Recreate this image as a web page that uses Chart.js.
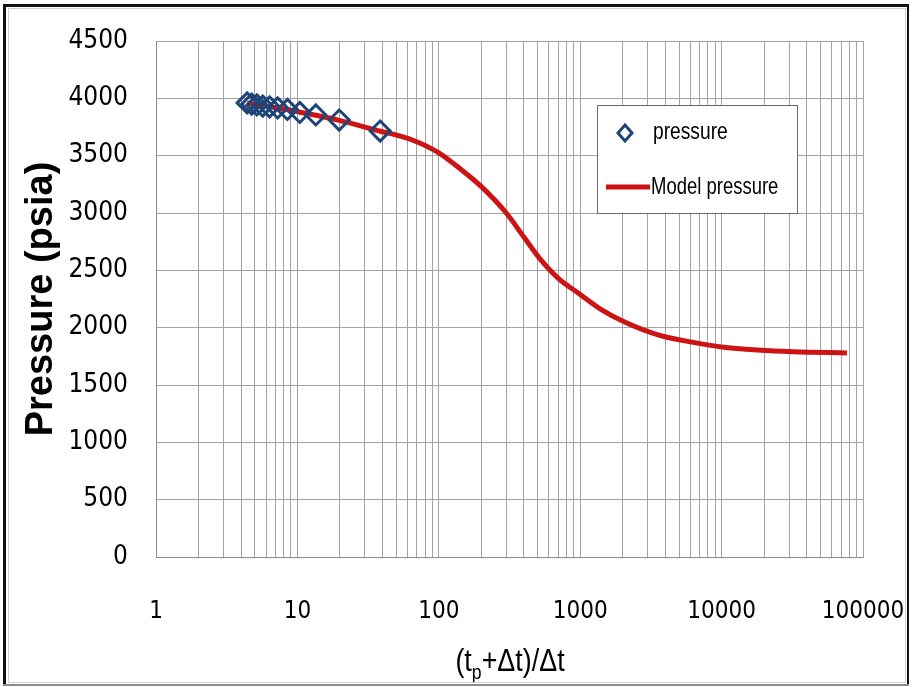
<!DOCTYPE html>
<html>
<head>
<meta charset="utf-8">
<script src="https://cdn.jsdelivr.net/npm/chart.js@4/dist/chart.umd.min.js"></script>
<style>
  html, body { margin: 0; padding: 0; background: #fff; }
  #wrap { width: 912px; height: 687px; position: relative; }
</style>
</head>
<body>
<div id="wrap"><canvas id="chart"></canvas></div>
<script>
// Horner plot: measured build-up pressures and the model curve
const hornerTime = [4.41, 4.75, 5.17, 5.69, 6.36, 7.25, 8.5, 10.4, 13.5, 19.75, 38.5];
const pressure   = [3960, 3950, 3942, 3933, 3925, 3916, 3903, 3877, 3855, 3811, 3715];

const modelTime     = [4.41, 5, 6, 7.25, 8.5, 10.4, 13.5, 19.75, 28, 38.5, 45, 65, 100, 140, 200, 300, 400, 520, 700, 1000, 1400, 2100, 3600, 6300, 10000, 18000, 32000, 77000];
const modelPressure = [3958, 3947, 3932, 3915, 3901, 3879, 3852, 3808, 3760, 3713, 3695, 3637, 3525, 3390, 3230, 3000, 2790, 2600, 2430, 2290, 2160, 2045, 1935, 1872, 1832, 1805, 1790, 1780];

const seriesNames = ['pressure', 'Model pressure'];
const yAxisName = 'Pressure (psia)';

const TICK_FONT = "'DejaVu Sans Condensed', 'Liberation Sans Narrow', sans-serif";
const TEXT_FONT = "'Liberation Sans', sans-serif";
const BLUE = '#1f4478';
const RED = '#cc1414';

const toXY = (xs, ys) => xs.map((x, i) => ({ x: x, y: ys[i] }));

// draws text squeezed horizontally (narrow face look)
function narrowText(c, str, x, y, sx) {
  c.save();
  c.translate(x, y);
  c.scale(sx, 1);
  c.fillText(str, 0, 0);
  c.restore();
  return c.measureText(str).width * sx;
}

// x axis title with a subscript p
const xTitle = {
  id: 'xTitle',
  afterDraw(chart) {
    const c = chart.ctx;
    const big = '32px ' + TEXT_FONT, small = '21px ' + TEXT_FONT;
    const parts = [['(t', big, 0], ['p', small, 8], ['+\u0394t)/\u0394t', big, 0]];
    const sx = 0.84;
    c.save();
    c.fillStyle = '#000';
    c.textBaseline = 'alphabetic';
    let w = 0;
    parts.forEach(p => { c.font = p[1]; w += c.measureText(p[0]).width * sx; });
    let x = 510 - w / 2;
    parts.forEach(p => {
      c.font = p[1];
      x += narrowText(c, p[0], x, 671 + p[2], sx);
    });
    c.restore();
  }
};

// boxed legend inside the plot area
const boxLegend = {
  id: 'boxLegend',
  afterDraw(chart) {
    const c = chart.ctx;
    const ds = chart.data.datasets;
    c.save();
    c.fillStyle = '#fff';
    c.fillRect(597, 105, 200, 108);
    c.strokeStyle = '#6a6a6a';
    c.lineWidth = 1;
    c.strokeRect(597.5, 105.5, 200, 108);

    // marker entry
    c.beginPath();
    c.moveTo(625, 125); c.lineTo(632, 133); c.lineTo(625, 141); c.lineTo(618, 133); c.closePath();
    c.strokeStyle = ds[0].borderColor;
    c.lineWidth = 3;
    c.stroke();

    // line entry
    c.beginPath();
    c.moveTo(606, 187); c.lineTo(650, 187);
    c.strokeStyle = ds[1].borderColor;
    c.lineWidth = 5;
    c.stroke();

    c.fillStyle = '#000';
    c.font = '24px ' + TEXT_FONT;
    c.textBaseline = 'middle';
    narrowText(c, ds[0].label, 653, 132, 0.8);
    narrowText(c, ds[1].label, 651, 187, 0.77);
    c.restore();
  }
};

// outer picture frame
const frame = {
  id: 'frame',
  afterDraw(chart) {
    const c = chart.ctx;
    c.save();
    c.strokeStyle = '#d0d0d0';
    c.lineWidth = 1;
    c.strokeRect(8.5, 8.5, 897, 674);
    c.fillStyle = '#111';
    c.fillRect(3, 4, 3, 681);
    c.fillRect(3, 4, 906, 3);
    c.fillRect(907, 4, 2, 681);
    c.fillStyle = '#8c8c8c';
    c.fillRect(3, 684, 906, 2);
    c.restore();
  }
};

const ctx = document.getElementById('chart');

new Chart(ctx, {
  type: 'scatter',
  data: {
    datasets: [
      {
        label: seriesNames[0],
        data: toXY(hornerTime, pressure),
        pointStyle: 'rectRot',
        pointRadius: 10,
        pointBorderWidth: 3,
        borderColor: BLUE,
        backgroundColor: 'rgba(0,0,0,0)',
        showLine: false
      },
      {
        label: seriesNames[1],
        data: toXY(modelTime, modelPressure),
        showLine: true,
        borderColor: RED,
        backgroundColor: RED,
        borderWidth: 5,
        pointRadius: 0,
        cubicInterpolationMode: 'monotone'
      }
    ]
  },
  options: {
    responsive: true,
    maintainAspectRatio: false,
    animation: false,
    layout: { padding: { left: 0, top: 41, right: 49, bottom: 0 } },
    plugins: {
      legend: { display: false },
      tooltip: { enabled: false }
    },
    scales: {
      x: {
        type: 'logarithmic',
        min: 1,
        max: 100000,
        afterBuildTicks(scale) {
          const t = [];
          for (let e = 0; e < 5; e++) {
            for (let m = 1; m < 10; m++) t.push({ value: m * Math.pow(10, e) });
          }
          t.push({ value: 100000 });
          scale.ticks = t;
        },
        afterFit(scale) {
          scale.height = 130;
          scale.paddingLeft = 0;
          scale.paddingRight = 0;
        },
        grid: { color: '#a3a3a3', lineWidth: 1, drawTicks: false },
        border: { color: '#8a8a8a', width: 1 },
        ticks: {
          autoSkip: false,
          maxRotation: 0,
          padding: 40,
          color: '#000',
          font: { family: TICK_FONT, size: 24 },
          callback(v) {
            const e = Math.log10(v);
            return Math.abs(e - Math.round(e)) < 1e-9 ? String(Math.round(v)) : '';
          }
        }
      },
      y: {
        min: 0,
        max: 4500,
        afterFit(scale) {
          scale.width = 156;
          scale.paddingTop = 0;
          scale.paddingBottom = 0;
        },
        grid: { color: '#a3a3a3', lineWidth: 1, drawTicks: false },
        border: { color: '#8a8a8a', width: 1 },
        ticks: {
          stepSize: 500,
          padding: 28,
          color: '#000',
          font: { family: TICK_FONT, size: 26 },
          callback: v => String(v)
        },
        title: {
          display: true,
          text: yAxisName,
          color: '#000',
          font: { family: TEXT_FONT, size: 38, weight: 'bold' },
          padding: { top: 19, bottom: 0 }
        }
      }
    }
  },
  plugins: [xTitle, boxLegend, frame]
});
</script>
</body>
</html>
